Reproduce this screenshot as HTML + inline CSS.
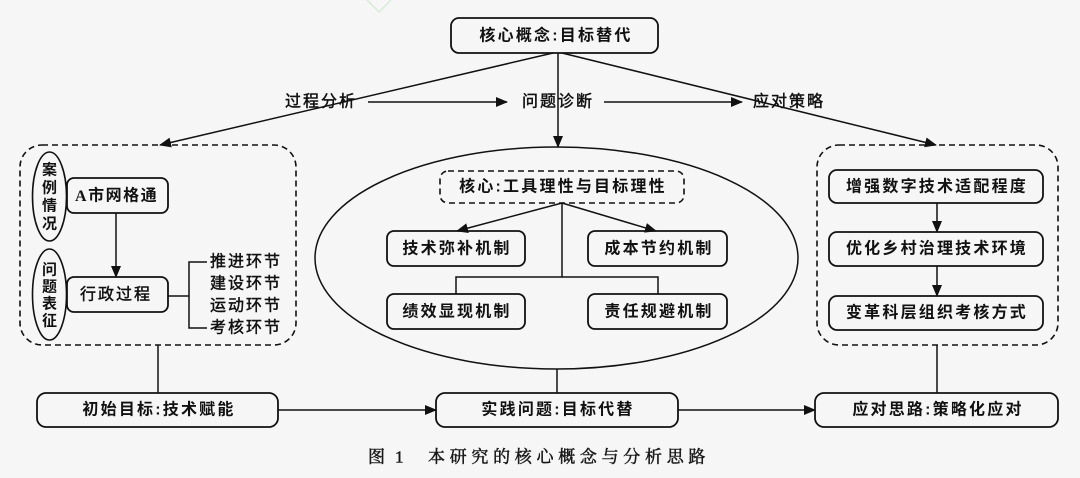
<!DOCTYPE html>
<html>
<head>
<meta charset="utf-8">
<style>
  html,body{margin:0;padding:0;background:#f6f6f6;}
  svg{display:block;}
  .b{font-family:"Liberation Sans","Noto Sans CJK SC",sans-serif;font-weight:bold;font-size:16px;fill:#111;letter-spacing:2.2px;}
  .r{font-family:"Liberation Sans","Noto Sans CJK SC",sans-serif;font-weight:normal;font-size:16px;fill:#111;stroke:#111;stroke-width:0.45px;letter-spacing:2px;}
  .v{font-family:"Liberation Sans","Noto Sans CJK SC",sans-serif;font-weight:bold;font-size:15px;fill:#111;}
  .cap{font-family:"Liberation Serif","Noto Serif CJK SC",serif;font-size:17px;fill:#1a1a1a;stroke:#1a1a1a;stroke-width:0.5px;letter-spacing:4.7px;}
</style>
</head>
<body>
<svg width="1080" height="478" viewBox="0 0 1080 478" xmlns="http://www.w3.org/2000/svg">
  <defs>
    <marker id="ah" markerWidth="12" markerHeight="10" refX="11" refY="5" orient="auto" markerUnits="userSpaceOnUse">
      <path d="M0,0 L12,5 L0,10 Z" fill="#111"/>
    </marker>
  </defs>
  <rect x="0" y="0" width="1080" height="478" fill="#f6f6f6"/>
  <!-- faint watermark -->
  <polyline points="367,0 379,12 391,0" fill="none" stroke="#d6ecd6" stroke-width="1.5"/>

  <g stroke="#111" fill="none">
    <!-- top box -->
    <rect x="451" y="18" width="207" height="35" rx="8" stroke-width="1.8"/>
    <!-- top connectors -->
    <line x1="553" y1="53" x2="160" y2="145" stroke-width="1.5" marker-end="url(#ah)"/>
    <line x1="558" y1="53" x2="558" y2="147" stroke-width="1.5" marker-end="url(#ah)"/>
    <line x1="562" y1="53" x2="936" y2="145" stroke-width="1.5" marker-end="url(#ah)"/>
    <line x1="368" y1="102" x2="507" y2="102" stroke-width="1.5" marker-end="url(#ah)"/>
    <line x1="604" y1="102" x2="742" y2="102" stroke-width="1.5" marker-end="url(#ah)"/>

    <!-- left dashed group -->
    <rect x="20" y="145" width="276" height="200" rx="22" stroke-width="1.6" stroke-dasharray="6 4"/>
    <ellipse cx="49.5" cy="196.5" rx="17" ry="44.5" stroke-width="1.6"/>
    <ellipse cx="49.5" cy="294.5" rx="17" ry="45.5" stroke-width="1.6"/>
    <rect x="67" y="178" width="101" height="35" rx="7" stroke-width="1.8"/>
    <rect x="67" y="277" width="101" height="35" rx="7" stroke-width="1.8"/>
    <line x1="116" y1="213" x2="116" y2="277" stroke-width="1.5" marker-end="url(#ah)"/>
    <polyline points="168,296 189,296" stroke-width="1.5"/>
    <polyline points="207,262 189,262 189,328 207,328" stroke-width="1.5"/>

    <!-- center ellipse -->
    <ellipse cx="556.5" cy="258" rx="241.5" ry="111" stroke-width="1.5"/>
    <rect x="440" y="171" width="244" height="32" rx="8" stroke-width="1.6" stroke-dasharray="6 4"/>
    <rect x="387" y="231" width="138" height="35" rx="7" stroke-width="1.8"/>
    <rect x="588" y="231" width="139" height="35" rx="7" stroke-width="1.8"/>
    <rect x="387" y="294" width="138" height="35" rx="7" stroke-width="1.8"/>
    <rect x="588" y="294" width="139" height="35" rx="7" stroke-width="1.8"/>
    <line x1="562" y1="203" x2="457" y2="231" stroke-width="1.5" marker-end="url(#ah)"/>
    <line x1="562" y1="203" x2="656" y2="231" stroke-width="1.5" marker-end="url(#ah)"/>
    <polyline points="562,203 562,277" stroke-width="1.5"/>
    <polyline points="456,294 456,277 658,277 658,294" stroke-width="1.5"/>

    <!-- right dashed group -->
    <rect x="817" y="145" width="241" height="200" rx="22" stroke-width="1.6" stroke-dasharray="6 4"/>
    <rect x="829" y="170" width="214" height="33" rx="8" stroke-width="1.8"/>
    <rect x="829" y="232" width="214" height="34" rx="8" stroke-width="1.8"/>
    <rect x="829" y="296" width="214" height="34" rx="8" stroke-width="1.8"/>
    <line x1="937" y1="203" x2="937" y2="232" stroke-width="1.5" marker-end="url(#ah)"/>
    <line x1="937" y1="266" x2="937" y2="296" stroke-width="1.5" marker-end="url(#ah)"/>

    <!-- down connectors -->
    <line x1="158" y1="345" x2="158" y2="393" stroke-width="1.5"/>
    <line x1="557" y1="369" x2="557" y2="393" stroke-width="1.5"/>
    <line x1="937" y1="345" x2="937" y2="393" stroke-width="1.5"/>

    <!-- bottom boxes -->
    <rect x="37" y="393" width="241" height="34" rx="9" stroke-width="1.8"/>
    <rect x="436" y="393" width="242" height="34" rx="9" stroke-width="1.8"/>
    <rect x="815" y="393" width="243" height="34" rx="9" stroke-width="1.8"/>
    <line x1="278" y1="410" x2="436" y2="410" stroke-width="1.5" marker-end="url(#ah)"/>
    <line x1="678" y1="410" x2="815" y2="410" stroke-width="1.5" marker-end="url(#ah)"/>
  </g>

  <!-- texts -->
  <text class="b" x="556" y="36" text-anchor="middle" dominant-baseline="central">核心概念:目标替代</text>
  <text class="r" x="285" y="102" dominant-baseline="central">过程分析</text>
  <text class="r" x="522" y="102" dominant-baseline="central">问题诊断</text>
  <text class="r" x="753" y="102" dominant-baseline="central">应对策略</text>

  <!-- left group -->
  <text class="v" x="49.5" y="170" text-anchor="middle" dominant-baseline="central">案</text>
  <text class="v" x="49.5" y="188" text-anchor="middle" dominant-baseline="central">例</text>
  <text class="v" x="49.5" y="206" text-anchor="middle" dominant-baseline="central">情</text>
  <text class="v" x="49.5" y="224" text-anchor="middle" dominant-baseline="central">况</text>
  <text class="v" x="49.5" y="270" text-anchor="middle" dominant-baseline="central">问</text>
  <text class="v" x="49.5" y="287" text-anchor="middle" dominant-baseline="central">题</text>
  <text class="v" x="49.5" y="304" text-anchor="middle" dominant-baseline="central">表</text>
  <text class="v" x="49.5" y="321" text-anchor="middle" dominant-baseline="central">征</text>
  <text class="b" x="75" y="196" dominant-baseline="central" style="letter-spacing:1.5px"><tspan style="font-family:'Liberation Serif',serif">A</tspan>市网格通</text>
  <text class="r" x="80" y="295" dominant-baseline="central">行政过程</text>
  <text class="r" x="210" y="262" dominant-baseline="central">推进环节</text>
  <text class="r" x="210" y="284" dominant-baseline="central">建设环节</text>
  <text class="r" x="210" y="306" dominant-baseline="central">运动环节</text>
  <text class="r" x="210" y="328" dominant-baseline="central">考核环节</text>

  <!-- center -->
  <text class="b" x="563" y="187" text-anchor="middle" dominant-baseline="central">核心:工具理性与目标理性</text>
  <text class="b" x="457" y="249" text-anchor="middle" dominant-baseline="central">技术弥补机制</text>
  <text class="b" x="659" y="249" text-anchor="middle" dominant-baseline="central">成本节约机制</text>
  <text class="b" x="457" y="312" text-anchor="middle" dominant-baseline="central">绩效显现机制</text>
  <text class="b" x="659" y="312" text-anchor="middle" dominant-baseline="central">责任规避机制</text>

  <!-- right -->
  <text class="b" x="937" y="187" text-anchor="middle" dominant-baseline="central">增强数字技术适配程度</text>
  <text class="b" x="937" y="249" text-anchor="middle" dominant-baseline="central">优化乡村治理技术环境</text>
  <text class="b" x="937" y="313" text-anchor="middle" dominant-baseline="central">变革科层组织考核方式</text>

  <!-- bottom -->
  <text class="b" x="159" y="410" text-anchor="middle" dominant-baseline="central">初始目标:技术赋能</text>
  <text class="b" x="558" y="410" text-anchor="middle" dominant-baseline="central">实践问题:目标代替</text>
  <text class="b" x="938" y="410" text-anchor="middle" dominant-baseline="central">应对思路:策略化应对</text>

  <!-- caption -->
  <text class="cap" x="368" y="457" dominant-baseline="central">图</text>
  <text class="cap" x="395" y="457" dominant-baseline="central">1</text>
  <text class="cap" x="428" y="457" dominant-baseline="central">本研究的核心概念与分析思路</text>
</svg>
</body>
</html>
